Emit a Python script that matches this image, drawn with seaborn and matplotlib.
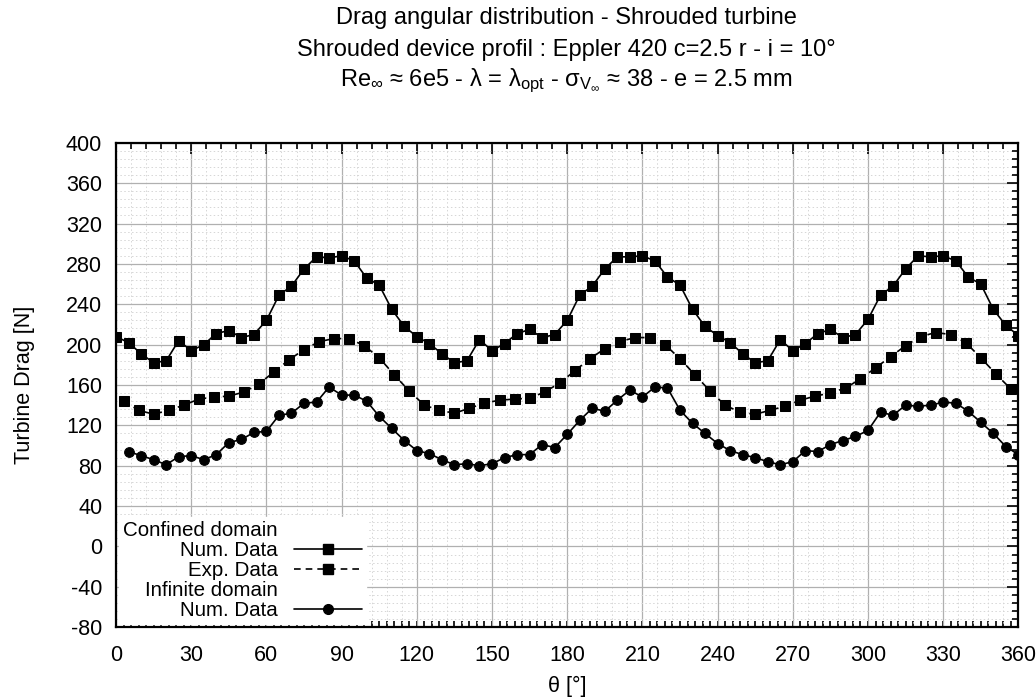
import seaborn as sns
import matplotlib.pyplot as plt
import pandas as pd
from matplotlib.ticker import MultipleLocator
from matplotlib.lines import Line2D

# -------- data -------- #
theta_num = list(range(0, 361, 5))
drag_confined_num = [208, 202, 191, 182, 184, 204, 194, 200, 211, 214, 207, 210, 224, 249, 258, 275, 287, 286, 288, 283, 266, 259, 235, 218,
                     208, 201, 191, 182, 184, 205, 194, 201, 211, 215, 207, 210, 224, 249, 258, 275, 287, 287, 288, 283, 267, 259, 235, 218,
                     209, 202, 191, 182, 184, 205, 194, 201, 211, 215, 207, 210, 225, 249, 258, 275, 288, 287, 288, 283, 267, 260, 235, 219, 209]

theta_exp = list(range(3, 358, 6))
drag_confined_exp = [144, 135, 131, 135, 140, 146, 148, 149, 153, 161, 173, 185, 195, 203, 206, 206, 199, 187, 170, 154, 140,
                     135, 132, 137, 142, 145, 146, 147, 153, 162, 174, 186, 196, 203, 207, 207, 200, 186, 170, 154, 140, 133, 131,
                     135, 139, 145, 149, 152, 157, 166, 177, 188, 199, 208, 212, 210, 202, 187, 171, 156]

theta_inf = list(range(5, 361, 5))
drag_infinite_num = [94, 90, 86, 81, 89, 90, 86, 91, 103, 106, 113, 114, 130, 132, 142, 143, 158, 150, 150, 144, 129, 117, 105, 95, 92,
                     86, 81, 82, 80, 82, 88, 91, 91, 101, 98, 111, 125, 137, 134, 145, 155, 148, 158, 157, 135, 122, 112, 102, 95, 91, 88,
                     84, 81, 84, 95, 94, 101, 105, 109, 115, 133, 130, 140, 139, 140, 143, 142, 134, 123, 112, 99, 91]

x_ticks = list(range(0, 361, 30))
y_ticks = list(range(-80, 401, 40))

df_num = pd.DataFrame({'theta': theta_num, 'drag': drag_confined_num})
df_exp = pd.DataFrame({'theta': theta_exp, 'drag': drag_confined_exp})
df_inf = pd.DataFrame({'theta': theta_inf, 'drag': drag_infinite_num})

# -------- style -------- #
sns.set_theme(style='white')
plt.rcParams['font.family'] = ['Liberation Sans', 'DejaVu Sans']
plt.rcParams['mathtext.fontset'] = 'custom'
plt.rcParams['mathtext.rm'] = 'Liberation Sans'
plt.rcParams['mathtext.it'] = 'Liberation Sans:italic'
plt.rcParams['text.color'] = 'black'
plt.rcParams['axes.labelcolor'] = 'black'
plt.rcParams['axes.unicode_minus'] = False

fig = plt.figure(figsize=(10.36, 7), dpi=100)
ax = fig.add_axes([0.112, 0.104, 0.871, 0.692])

sns.lineplot(data=df_num, x='theta', y='drag', ax=ax, color='black', marker='s',
             markersize=7.5, markeredgecolor='black', linewidth=1.2, zorder=3)
sns.lineplot(data=df_exp, x='theta', y='drag', ax=ax, color='black', marker='s',
             markersize=7.5, markeredgecolor='black', linewidth=1.2, linestyle=(0, (4, 3)), zorder=3)
sns.lineplot(data=df_inf, x='theta', y='drag', ax=ax, color='black', marker='o',
             markersize=7, markeredgecolor='black', linewidth=1.2, zorder=3)

ax.set_xlim(0, 360)
ax.set_ylim(-80, 400)
ax.set_xticks(x_ticks)
ax.set_yticks(y_ticks)
ax.xaxis.set_minor_locator(MultipleLocator(6))
ax.yaxis.set_minor_locator(MultipleLocator(8))
ax.grid(which='major', color='#b0b0b0', linewidth=0.9, linestyle='-')
ax.grid(which='minor', color='#d6d6d6', linewidth=0.7, linestyle=(0, (1.5, 2.5)))
ax.set_axisbelow(True)

ax.tick_params(which='both', direction='in', top=True, right=True, colors='black',
               labelsize=15.5, width=1.2)
ax.tick_params(which='major', length=8)
ax.tick_params(axis='y', which='major', pad=10)
ax.tick_params(axis='x', which='major', pad=13)
ax.tick_params(which='minor', length=4)
ax.tick_params(axis='x', which='minor', bottom=False)
sec = ax.secondary_xaxis('bottom')
sec.xaxis.set_minor_locator(MultipleLocator(3))
sec.set_xticks([])
sec.tick_params(which='minor', direction='in', length=4, width=1.2, colors='black')
sec.spines['bottom'].set_visible(False)

for s in ax.spines.values():
    s.set_color('black')
    s.set_linewidth(1.6)

ax.set_xlabel('θ [°]', fontsize=15.5, labelpad=7)
ax.set_ylabel('Turbine Drag [N]', fontsize=15.5, labelpad=22)

fig.text(0.547, 0.974, 'Drag angular distribution - Shrouded turbine', ha='center', va='center', fontsize=17)
fig.text(0.547, 0.929, 'Shrouded device profil : Eppler 420 c=2.5 r - i = 10°', ha='center', va='center', fontsize=17)
fig.text(0.547, 0.885, r'Re$_{\infty}$ ≈ 6e5 - λ = λ$_{\mathrm{opt}}$ - σ$_{\mathrm{V}_{\infty}}$ ≈ 38 - e = 2.5 mm',
         ha='center', va='center', fontsize=17)

# -------- gnuplot-like legend -------- #
blank = Line2D([], [], linestyle='none', marker=None)
h_num = Line2D([], [], color='black', marker='s', markersize=7.5, linewidth=1.2)
h_exp = Line2D([], [], color='black', marker='s', markersize=7.5, linewidth=1.2, linestyle=(0, (4, 3)))
h_inf = Line2D([], [], color='black', marker='o', markersize=7, linewidth=1.2)
leg = ax.legend([blank, h_num, h_exp, blank, h_inf],
                ['Confined domain', 'Num. Data', 'Exp. Data', 'Infinite domain', 'Num. Data'],
                loc='lower left', bbox_to_anchor=(0.0, 0.0), markerfirst=False, frameon=True,
                fancybox=False, framealpha=1, edgecolor='white', facecolor='white',
                fontsize=14.8, handlelength=3.3, handletextpad=0.8, labelspacing=0.05,
                borderpad=0.2, borderaxespad=0.15)
leg.set_zorder(5)

plt.savefig('out.png', dpi=100)
